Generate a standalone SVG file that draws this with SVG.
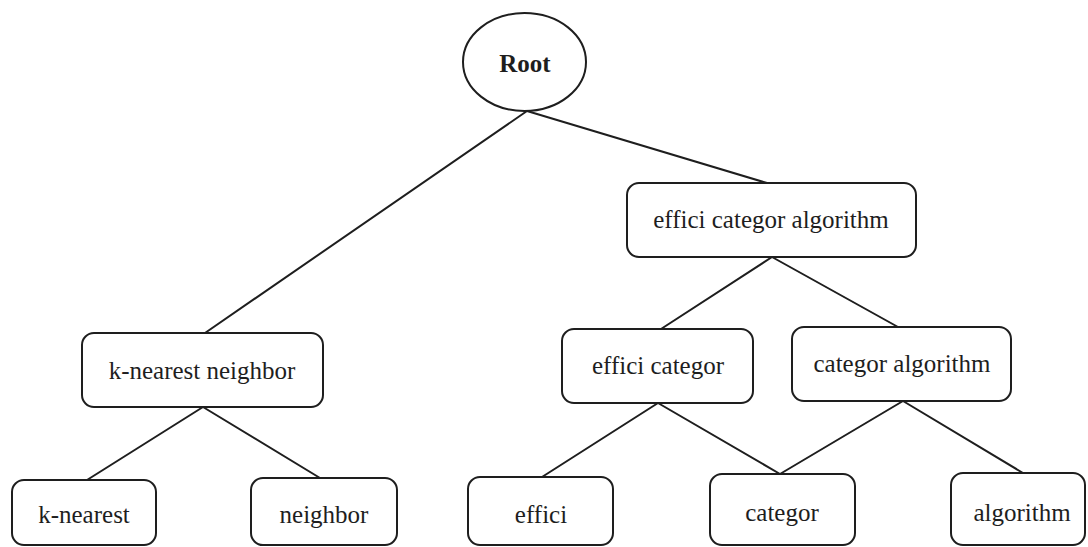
<svg xmlns="http://www.w3.org/2000/svg" width="1088" height="547" viewBox="0 0 1088 547">
  <style>
    .box { fill: #ffffff; stroke: #1e1e1e; stroke-width: 2; }
    .edge { stroke: #1e1e1e; stroke-width: 2; fill: none; stroke-linecap: round; }
    .label { font-family: "Liberation Serif", "Times New Roman", serif; font-size: 25px; fill: #1e1e1e; text-anchor: middle; }
    .root { font-weight: bold; }
  </style>
  <rect width="1088" height="547" fill="#ffffff"/>

  <!-- connectors -->
  <g id="edges">
    <line class="edge" x1="527" y1="111" x2="205" y2="333"/>
    <line class="edge" x1="527" y1="111" x2="767" y2="183"/>
    <line class="edge" x1="203" y1="407" x2="87" y2="480"/>
    <line class="edge" x1="203" y1="407" x2="320" y2="478"/>
    <line class="edge" x1="772" y1="257" x2="661" y2="329"/>
    <line class="edge" x1="772" y1="257" x2="898" y2="327"/>
    <line class="edge" x1="658" y1="403" x2="542" y2="477"/>
    <line class="edge" x1="658" y1="403" x2="780" y2="474"/>
    <line class="edge" x1="903" y1="401" x2="780" y2="474"/>
    <line class="edge" x1="903" y1="401" x2="1023" y2="473"/>
  </g>

  <g id="root">
    <ellipse class="box" cx="524.5" cy="62" rx="61.5" ry="49"/>
    <text class="label root" x="525" y="72">Root</text>
  </g>

  <g id="k-nearest-neighbor">
    <rect class="box" x="82" y="333" width="241" height="74" rx="12"/>
    <text class="label" x="202" y="379">k-nearest neighbor</text>
  </g>

  <g id="effici-categor-algorithm">
    <rect class="box" x="627" y="183" width="289" height="74" rx="12"/>
    <text class="label" x="771" y="228">effici categor algorithm</text>
  </g>

  <g id="effici-categor">
    <rect class="box" x="562" y="329" width="191" height="74" rx="12"/>
    <text class="label" x="658" y="374">effici categor</text>
  </g>

  <g id="categor-algorithm">
    <rect class="box" x="792" y="327" width="219" height="74" rx="12"/>
    <text class="label" x="902" y="372">categor algorithm</text>
  </g>

  <g id="k-nearest">
    <rect class="box" x="12" y="480" width="144" height="65" rx="12"/>
    <text class="label" x="84" y="523">k-nearest</text>
  </g>

  <g id="neighbor">
    <rect class="box" x="251" y="478" width="146" height="67" rx="12"/>
    <text class="label" x="324" y="523">neighbor</text>
  </g>

  <g id="effici">
    <rect class="box" x="468" y="477" width="145" height="68" rx="12"/>
    <text class="label" x="541" y="523">effici</text>
  </g>

  <g id="categor">
    <rect class="box" x="710" y="474" width="145" height="71" rx="12"/>
    <text class="label" x="782" y="521">categor</text>
  </g>

  <g id="algorithm">
    <rect class="box" x="951" y="473" width="134" height="72" rx="12"/>
    <text class="label" x="1022" y="521">algorithm</text>
  </g>
</svg>
